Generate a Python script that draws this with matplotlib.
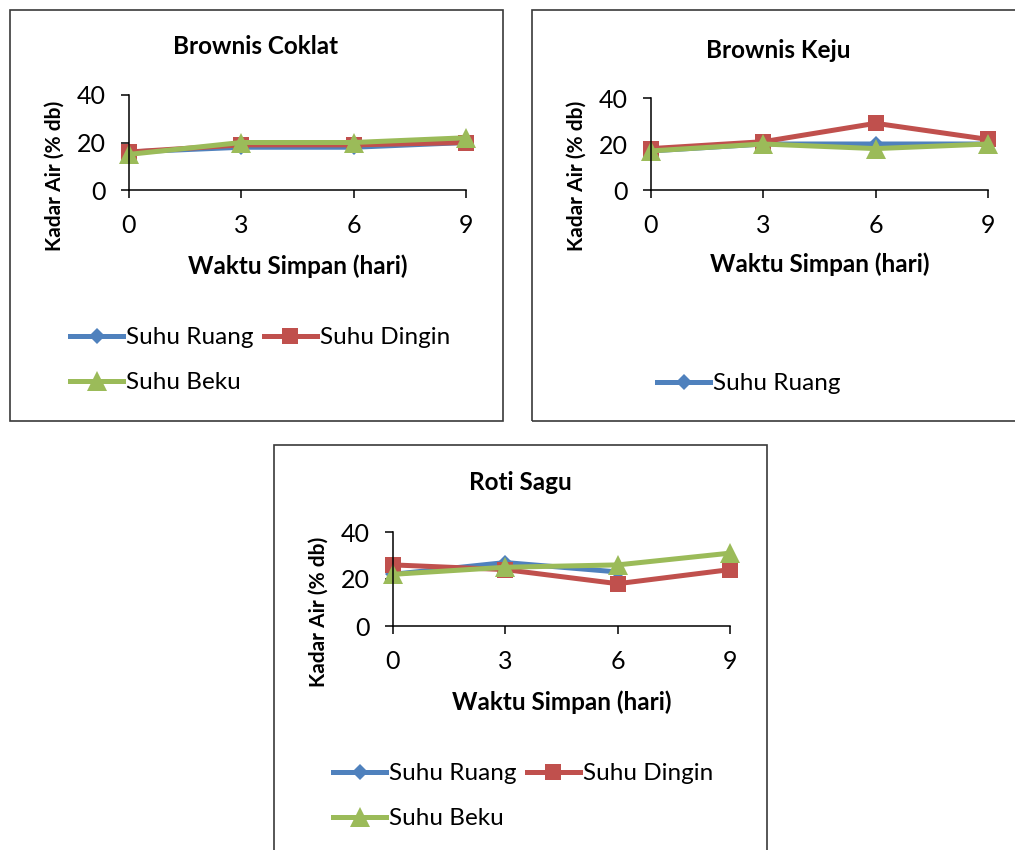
import matplotlib
matplotlib.use("Agg")
import matplotlib.pyplot as plt
from matplotlib.patches import Rectangle
import numpy as np

plt.rcParams['font.family'] = ['Lato', 'DejaVu Sans']

# waktu simpan (hari)
hari = [0, 3, 6, 9]
seri = ['Suhu Ruang', 'Suhu Dingin', 'Suhu Beku']

# kadar air (% db)
coklat_ruang = [16, 18, 18, 20]
coklat_dingin = [16, 19, 19, 20]
coklat_beku = [15, 20, 20, 22]

keju_ruang = [17, 20, 20, 20]
keju_dingin = [18, 21, 29, 22]
keju_beku = [17, 20, 18, 20]

sagu_ruang = [22, 27, 23, np.nan]
sagu_dingin = [26, 24, 18, 24]
sagu_beku = [22, 25, 26, 31]

W, H = 1015, 850
warna = ['#4F81BD', '#C0504D', '#9BBB59']
marker = ['D', 's', '^']
msize = [8.5, 12, 14]

fig = plt.figure(figsize=(W / 100, H / 100), dpi=100)


def fx(x):
    return x / W


def fy(y):
    return 1 - y / H


def kotak(x0, y0, x1, y1):
    r = Rectangle((fx(x0), fy(y1)), fx(x1) - fx(x0), fy(y0) - fy(y1),
                  transform=fig.transFigure, fill=False, edgecolor='#3a3a3a', lw=1.2)
    fig.add_artist(r)


def panel(judul, data, left, right, top, bottom, title_xy, legend_xy, n_leg=3):
    ax = fig.add_axes([fx(left), fy(bottom), fx(right) - fx(left), fy(top) - fy(bottom)])
    lines = []
    for i, y in enumerate(data):
        ln, = ax.plot(hari, y, color=warna[i], lw=3.6, marker=marker[i], ms=msize[i],
                      markeredgewidth=0, label=seri[i], clip_on=False)
        lines.append(ln)
    ax.set_xlim(0, 9)
    ax.set_ylim(0, 40)
    ax.set_xticks(hari)
    ax.set_yticks([0, 20, 40])
    for s in ['top', 'right']:
        ax.spines[s].set_visible(False)
    ax.spines['left'].set_linewidth(1.1)
    ax.spines['bottom'].set_linewidth(1.1)
    ax.tick_params(axis='both', labelsize=18, width=1.1, length=6, pad=11)
    ax.set_xlabel('Waktu Simpan (hari)', fontsize=17.5, fontweight='bold')
    ax.xaxis.set_label_coords(0.5, -0.68)
    ax.set_ylabel('Kadar Air (% db)', fontsize=15, fontweight='bold')
    ax.yaxis.set_label_coords(-0.19, 0.15)
    fig.text(fx(title_xy[0]), fy(title_xy[1]), judul, fontsize=17.5, fontweight='bold',
             ha='center', va='center')
    # urutan baris: Ruang, Dingin / Beku
    if n_leg == 3:
        hs = [lines[0], lines[2], lines[1]]
    else:
        hs = lines[:n_leg]
    ax.legend(handles=hs, loc='upper left',
              bbox_to_anchor=(fx(legend_xy[0]), fy(legend_xy[1])),
              bbox_transform=fig.transFigure, ncol=2, frameon=False, fontsize=17.5,
              handlelength=2.2, handletextpad=0.12, columnspacing=0.4,
              labelspacing=1.0, borderpad=0, borderaxespad=0)
    return ax


kotak(10, 10, 503, 421)
kotak(532, 10, 1030, 421)
kotak(274, 445, 767, 870)

panel('Brownis Coklat', [coklat_ruang, coklat_dingin, coklat_beku],
      129, 466, 95, 190, (256, 47), (70, 327))
panel('Brownis Keju', [keju_ruang, keju_dingin, keju_beku],
      651, 988, 98, 190, (778, 50), (657, 373), n_leg=1)
panel('Roti Sagu', [sagu_ruang, sagu_dingin, sagu_beku],
      393, 730, 532, 626, (520, 483), (333, 763))

fig.savefig('out.png', dpi=100)
